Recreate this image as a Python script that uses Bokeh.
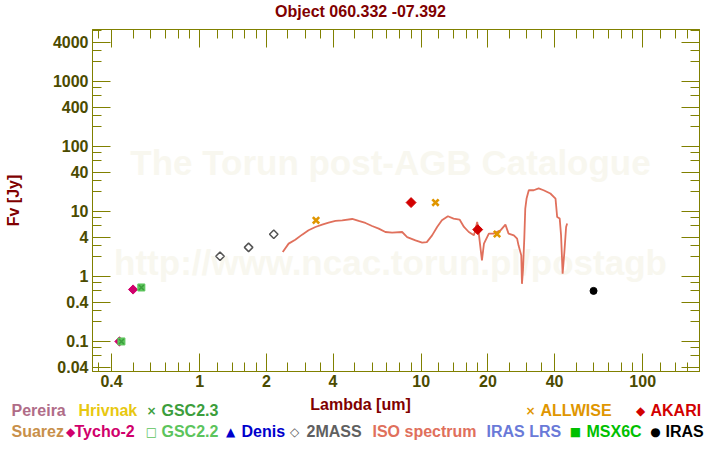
import math
from bokeh.plotting import figure
from bokeh.layouts import column
from bokeh.models import (FixedTicker, CustomJSTickFormatter, Label, Range1d,
                          LogAxis, ColumnDataSource)
from bokeh.core.properties import value
from bokeh.embed import file_html
from bokeh.resources import INLINE

# ---------------- data ----------------
TITLE = "Object 060.332 -07.392"
X_LABEL = "Lambda [um]"
Y_LABEL = "Fv [Jy]"
WATERMARK_1 = "The Torun post-AGB Catalogue"
WATERMARK_2 = "http://www.ncac.torun.pl/postagb"

x_major = [0.4, 1, 2, 4, 10, 20, 40, 100]
x_minor = [0.35, 0.5, 0.6, 0.7, 0.8, 0.9, 1.2, 1.4, 1.6, 1.8, 2.5, 3, 3.5,
           5, 6, 7, 8, 9, 12, 14, 16, 18, 25, 30, 35, 50, 60, 70, 80, 90,
           120, 140, 160, 180]
y_major = [0.04, 0.1, 0.4, 1, 4, 10, 40, 100, 400, 1000, 4000]
y_minor = [0.06, 0.08, 0.2, 0.3, 0.6, 0.8, 2, 3, 6, 8, 20, 30, 60, 80,
           200, 300, 600, 800, 2000, 3000, 6000]

# ISO spectrum
iso_wl = [2.37, 2.52, 2.70, 2.90, 3.10, 3.33, 3.57, 3.82, 4.10, 4.40, 4.88,
          5.22, 5.60, 6.00, 6.43, 6.89, 7.39, 8.20, 8.64, 9.42, 10.1, 10.6,
          11.2, 11.8, 12.4, 13.2, 14.0, 14.9, 15.6, 16.4, 17.3, 17.9, 18.2,
          18.8, 19.2, 20.2, 21.2, 22.8, 24.0, 24.8, 26.2, 27.1, 27.5, 28.3,
          28.5, 28.8, 29.2, 29.5, 29.9, 30.6, 32.2, 33.9, 35.7, 38.3, 40.4,
          41.1, 42.2, 42.8, 43.5, 44.3, 45.1, 45.6]
iso_f = [2.37, 3.20, 3.68, 4.40, 5.13, 5.77, 6.28, 6.74, 7.14, 7.31, 7.66,
         7.14, 6.65, 5.97, 5.45, 4.83, 4.72, 4.83, 4.04, 3.59, 3.31, 3.38,
         4.29, 5.77, 7.31, 8.43, 7.77, 7.50, 5.77, 4.83, 4.29, 6.89, 4.56,
         1.77, 3.20, 4.56, 4.56, 5.13, 6.28, 4.56, 4.29, 3.82, 3.01, 2.11,
         0.77, 1.24, 3.82, 11.1, 15.8, 21.2, 21.2, 22.6, 21.2, 18.9, 15.8,
         8.23, 7.77, 4.29, 1.10, 2.37, 5.77, 6.51]

twomass_wl = [1.235, 1.662, 2.159]
twomass_f = [2.04, 2.80, 4.45]
allwise_wl = [3.35, 11.6, 22.0]
allwise_f = [7.3, 13.7, 4.5]
akari_wl = [9.0, 18.0]
akari_f = [13.7, 5.26]
iras_wl = [60.0]
iras_f = [0.60]
tycho_wl = [0.434, 0.50]
tycho_f = [0.10, 0.63]
gsc22_wl = [0.443, 0.545]
gsc22_f = [0.10, 0.677]
gsc23_wl = [0.443, 0.545]
gsc23_f = [0.10, 0.677]

legend_row1 = ["Pereira", "Hrivnak", "GSC2.3", "ALLWISE", "AKARI"]
legend_row1_sym = ["", "", "\u00d7", "\u00d7", "\u25c6"]
legend_row2 = ["Suarez", "Tycho-2", "GSC2.2", "Denis", "2MASS",
               "ISO spectrum", "IRAS LRS", "MSX6C", "IRAS"]
legend_row2_sym = ["", "\u25c6", "\u25a1", "\u25b2", "\u25c7", "", "", "\u25a0", "\u25cf"]

# ---------------- styles / layout ----------------
FONT = "Liberation Sans"
OLIVE = "#808000"
TICKLAB = "#4b4b00"
MAROON = "#800000"
C_ISO = "#e0705c"
C_2MASS = "#555555"
C_ALLWISE = "#e09600"
C_AKARI = "#d20000"
C_IRAS = "#000000"
C_TYCHO = "#d0006c"
C_GSC22 = "#5cc45c"
C_GSC23 = "#3c9e3c"

row1_colors = ["#b06c88", "#e8c810", C_GSC23, C_ALLWISE, C_AKARI]
row1_text_x = [11, 78, 161, 540, 650]
row1_sym_x = [None, None, 151, 530, 640]
row2_colors = ["#c8904a", C_TYCHO, C_GSC22, "#0000cc", "#606060",
               C_ISO, "#6a7ad8", "#00c000", "#000000"]
row2_text_x = [11, 74, 161, 241, 306, 372, 486, 586, 665]
row2_sym_x = [None, 70, 151, 230, 294, None, None, 575, 655]

W = 720
TOP_H = 29              # title strip
SPLIT = 393             # canvas y where the legend strip starts
MAIN_H = SPLIT - TOP_H  # plot with axes
LEG_H = 450 - SPLIT     # x label + legend strip
FL, FR = 92, 699        # frame left/right on canvas
FB = 371 - TOP_H        # frame bottom inside main figure


def strip(height, y0):
    f = figure(width=W, height=height, x_range=Range1d(0, W),
               y_range=Range1d(y0 + height, y0), output_backend="svg",
               toolbar_location=None, min_border=0,
               x_axis_location=None, y_axis_location=None)
    f.xgrid.visible = False
    f.ygrid.visible = False
    f.outline_line_color = None
    f.background_fill_color = "white"
    f.border_fill_color = "white"
    f.frame_align = False
    return f


# ---- title strip ----
ttl = strip(TOP_H, 0)
ttl.text(x=[360], y=[11], text=[TITLE], text_color=MAROON,
         text_font=value(FONT), text_font_size="16px", text_font_style="bold",
         text_align="center", text_baseline="middle")

# ---- main plot ----
p = figure(width=W, height=MAIN_H, x_axis_type="log", y_axis_type="log",
           x_range=Range1d(0.328, 180.5), y_range=Range1d(0.0345, 6300),
           output_backend="svg", toolbar_location=None,
           min_border_left=FL, min_border_right=W - FR,
           min_border_top=0, min_border_bottom=MAIN_H - FB)
p.frame_align = False
p.xgrid.visible = False
p.ygrid.visible = False
p.outline_line_color = OLIVE
p.background_fill_color = "white"
p.border_fill_color = "white"


def style_axis(ax, major, minor, show_labels):
    ax.ticker = FixedTicker(ticks=major, minor_ticks=minor)
    ax.axis_line_color = OLIVE
    ax.major_tick_line_color = OLIVE
    ax.minor_tick_line_color = OLIVE
    ax.major_tick_in = 18
    ax.major_tick_out = 0
    ax.minor_tick_in = 9
    ax.minor_tick_out = 0
    ax.major_label_text_font = FONT
    ax.major_label_text_font_style = "bold"
    ax.major_label_text_color = TICKLAB
    if show_labels:
        ax.major_label_text_font_size = "16px"
        ax.formatter = CustomJSTickFormatter(code="return String(tick);")
    else:
        ax.major_label_text_font_size = "0px"
        ax.formatter = CustomJSTickFormatter(code="return '';")
        ax.major_label_standoff = 0


style_axis(p.xaxis[0], x_major, x_minor, True)
p.xaxis[0].major_label_standoff = 3
style_axis(p.yaxis[0], y_major, y_minor, True)
p.yaxis[0].major_label_standoff = 4
p.yaxis[0].axis_label = Y_LABEL
p.yaxis[0].axis_label_text_font = FONT
p.yaxis[0].axis_label_text_font_size = "16px"
p.yaxis[0].axis_label_text_font_style = "bold"
p.yaxis[0].axis_label_text_color = MAROON
p.yaxis[0].axis_label_standoff = 28

top = LogAxis()
style_axis(top, x_major, x_minor, False)
p.add_layout(top, "above")
right = LogAxis()
style_axis(right, y_major, y_minor, False)
p.add_layout(right, "right")

# watermark (inside the frame)
for txt, cy in [(WATERMARK_1, 162), (WATERMARK_2, 262)]:
    p.add_layout(Label(x=390 - FL, y=FB - (cy - TOP_H), x_units="screen", y_units="screen",
                       text=txt, text_color="#f8f7ef", text_font=FONT,
                       text_font_size="35px", text_font_style="bold",
                       text_align="center", text_baseline="middle",
                       level="underlay"))

# data marks
p.line(iso_wl, iso_f, line_color=C_ISO, line_width=1.8)
p.scatter(twomass_wl, twomass_f, marker="square", angle=math.pi / 4, size=6,
          fill_color="white", line_color=C_2MASS, line_width=1.5)
p.scatter(tycho_wl, tycho_f, marker="square", angle=math.pi / 4, size=6.5,
          fill_color=C_TYCHO, line_color=C_TYCHO, line_width=1)
p.scatter(gsc22_wl, gsc22_f, marker="square", size=7,
          fill_color=C_GSC22, line_color=C_GSC22)
p.scatter(gsc23_wl, gsc23_f, marker="x", size=7,
          line_color=C_GSC23, line_width=1.5)
p.scatter(allwise_wl, allwise_f, marker="x", size=9,
          line_color=C_ALLWISE, line_width=2.6)
p.scatter(akari_wl, akari_f, marker="square", angle=math.pi / 4, size=7,
          fill_color=C_AKARI, line_color=C_AKARI, line_width=1)
p.scatter(iras_wl, iras_f, marker="circle", size=7,
          fill_color=C_IRAS, line_color=C_IRAS)

# ---- x label + legend strip ----
leg = strip(LEG_H, SPLIT)
txt_x, txt_y, txt_t, txt_c, txt_a = [], [], [], [], []
sym_x, sym_y, sym_t, sym_c = [], [], [], []
txt_x.append(360); txt_y.append(404); txt_t.append(X_LABEL); txt_c.append(MAROON); txt_a.append("center")
for labs, syms, cols, tx, sx, cy in [
        (legend_row1, legend_row1_sym, row1_colors, row1_text_x, row1_sym_x, 410),
        (legend_row2, legend_row2_sym, row2_colors, row2_text_x, row2_sym_x, 431)]:
    for t, s, c, x0, x1 in zip(labs, syms, cols, tx, sx):
        txt_x.append(x0); txt_y.append(cy); txt_t.append(t); txt_c.append(c); txt_a.append("left")
        if s:
            sym_x.append(x1); sym_y.append(cy); sym_t.append(s); sym_c.append(c)

leg.text(x="x", y="y", text="t", text_color="c", text_align="a",
         source=ColumnDataSource(dict(x=txt_x, y=txt_y, t=txt_t, c=txt_c, a=txt_a)),
         text_font=value(FONT), text_font_size="16px", text_font_style="bold",
         text_baseline="middle")
leg.text(x="x", y="y", text="t", text_color="c",
         source=ColumnDataSource(dict(x=sym_x, y=sym_y, t=sym_t, c=sym_c)),
         text_font=value("DejaVu Sans"), text_font_size="12px",
         text_font_style="bold", text_align="center", text_baseline="middle")

open("out.html", "w").write(file_html(column(ttl, p, leg, spacing=0), INLINE))
